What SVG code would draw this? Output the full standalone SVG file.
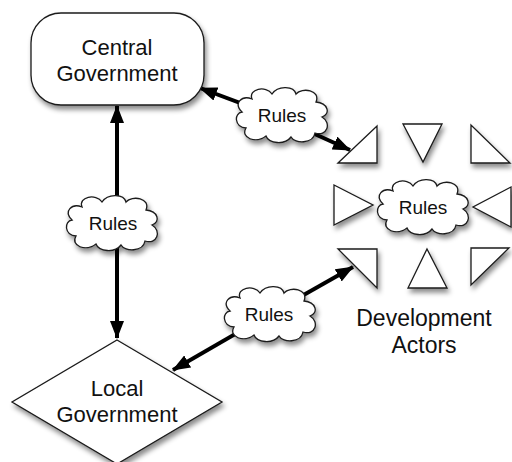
<svg xmlns="http://www.w3.org/2000/svg" width="512" height="462" viewBox="0 0 512 462">
  <style>
    .shape { fill: #ffffff; stroke: #1a1a1a; stroke-width: 1.3; filter: url(#shadow); }
    .label { font-family: "Liberation Sans", Arial, Helvetica, sans-serif; fill: #111111; text-anchor: middle; }
    .big { font-size: 22px; }
    .actors { font-size: 23px; }
    .small { font-size: 19px; }
    .link { fill: none; stroke: #000000; stroke-width: 4; marker-start: url(#head); marker-end: url(#head); }
  </style>
  <defs>
    <filter id="shadow" x="-30%" y="-30%" width="160%" height="170%">
      <feDropShadow dx="2" dy="4" stdDeviation="2.5" flood-color="#000000" flood-opacity="0.45"/>
    </filter>
    <marker id="head" viewBox="0 0 18 14" refX="17" refY="7" markerWidth="18" markerHeight="14" markerUnits="userSpaceOnUse" orient="auto-start-reverse">
      <path d="M0,0 L18,7 L0,14 Z" fill="#000000"/>
    </marker>
    <!-- cloud outline centred on 0,0, about 96 x 54 -->
    <path id="cloud" d="M -30,-17 C -34,-27 -16,-31 -10,-22 C -4,-31 12,-30 14,-22 C 20,-29 39,-26 34,-14 C 46,-13 49,-2 40,1 C 50,7 45,21 33,17 C 31,28 13,28 9,21 C 3,29 -13,28 -16,20 C -26,28 -42,22 -36,12 C -48,11 -48,-3 -40,-4 C -49,-13 -40,-21 -30,-17 Z"/>
  </defs>

  <!-- connectors -->
  <g id="connectors">
    <line class="link" x1="117" y1="222" x2="117" y2="106"/>
    <line class="link" x1="117" y1="222" x2="117" y2="338"/>
    <line class="link" x1="275" y1="116" x2="200" y2="88"/>
    <line class="link" x1="275" y1="116" x2="350" y2="150"/>
    <line class="link" x1="263" y1="318" x2="173" y2="370"/>
    <line class="link" x1="263" y1="318" x2="353" y2="267"/>
  </g>

  <g id="central-government">
    <rect class="shape" x="31" y="13" width="173" height="92" rx="30" ry="30"/>
    <text class="label big" x="117" y="55">Central</text>
    <text class="label big" x="117" y="81">Government</text>
  </g>

  <g id="local-government">
    <polygon class="shape" points="117,340 222,402 117,464 12,402"/>
    <text class="label big" x="117" y="396">Local</text>
    <text class="label big" x="117" y="422">Government</text>
  </g>

  <g id="rules-central-actors">
    <use href="#cloud" class="shape" transform="translate(282,116)"/>
    <text class="label small" x="282" y="122">Rules</text>
  </g>

  <g id="rules-central-local">
    <use href="#cloud" class="shape" transform="translate(112,224)"/>
    <text class="label small" x="113" y="230">Rules</text>
  </g>

  <g id="rules-local-actors">
    <use href="#cloud" class="shape" transform="translate(270,315)"/>
    <text class="label small" x="269" y="321">Rules</text>
  </g>

  <g id="development-actors">
    <polygon class="shape" points="338,163 377,126 377,163"/>
    <polygon class="shape" points="403,124 442,124 423,162"/>
    <polygon class="shape" points="471,125 471,163 510,163"/>
    <polygon class="shape" points="334,185 334,225 373,205"/>
    <polygon class="shape" points="511,187 511,227 473,207"/>
    <polygon class="shape" points="338,249 377,249 377,288"/>
    <polygon class="shape" points="427,249 447,288 408,288"/>
    <polygon class="shape" points="471,248 509,248 471,285"/>
    <use href="#cloud" class="shape" transform="translate(423,208)"/>
    <text class="label small" x="423" y="214">Rules</text>
    <text class="label actors" x="424" y="326">Development</text>
    <text class="label actors" x="424" y="353">Actors</text>
  </g>
</svg>
